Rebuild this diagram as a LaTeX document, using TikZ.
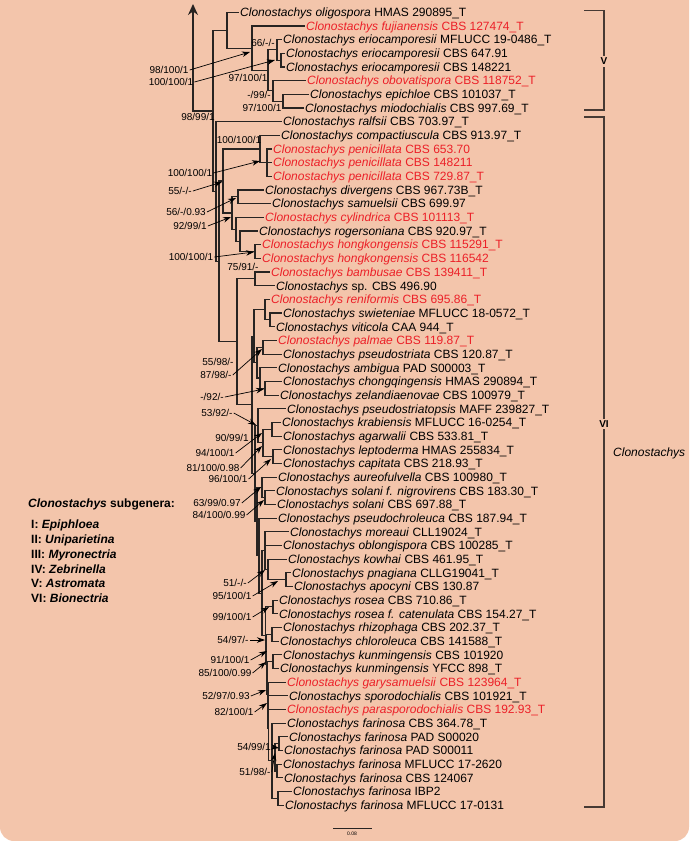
\documentclass[tikz,border=0pt]{standalone}
\usepackage{fontspec}
\setmainfont{Liberation Sans}
\usetikzlibrary{arrows.meta}
\definecolor{bgc}{RGB}{243,197,171}
\definecolor{redc}{RGB}{236,32,40}
\definecolor{linec}{RGB}{40,36,34}
\definecolor{brk}{RGB}{70,58,52}
\tikzset{
  br/.style={draw=linec, line width=1.1pt, line cap=rect},
  tip/.style={anchor=west, inner xsep=2pt, inner ysep=0pt, text height=8.6pt, text depth=0pt, font=\fontsize{12}{12}\selectfont},
  rtip/.style={tip, text=redc},
  sup/.style={font=\fontsize{10}{10}\selectfont, inner sep=0pt, text height=7.2pt, text depth=0pt},
  suparr/.style={draw=black, line width=0.7pt, -{Stealth[length=8pt,width=5.5pt]}},
  rootarr/.style={draw=linec, line width=1.3pt, -{Stealth[length=11pt,width=10pt]}},
  brkt/.style={draw=brk, line width=1.2pt},
  leg/.style={anchor=west, inner sep=0pt, text height=8.6pt, text depth=0pt, font=\fontsize{12}{12}\selectfont\bfseries},
  clab/.style={fill=bgc, inner xsep=0pt, inner ysep=2pt, font=\fontsize{10}{10}\selectfont\bfseries},
}
\newcommand\Cl[1]{\textit{Clonostachys #1}}
\newcommand\tip[3]{\node[tip] (t#1) at (#2-2,{12.3+13.67*(#1-1)}) {#3}; \coordinate (a#1) at (t#1.west);}
\newcommand\rtip[3]{\node[rtip] (t#1) at (#2-2,{12.3+13.67*(#1-1)}) {#3}; \coordinate (a#1) at (t#1.west);}
\newcommand\kid[2]{\draw[br] (#1 |- #2) -- (#2);}
\newcommand\Vsp[3]{\draw[br] (#1 |- #2) -- (#1 |- #3);}
\newcommand\bin[3]{\Vsp{#1}{#2}{#3}\kid{#1}{#2}\kid{#1}{#3}}
\newcommand\tri[4]{\Vsp{#1}{#2}{#4}\kid{#1}{#2}\kid{#1}{#3}\kid{#1}{#4}}
\newcommand\suplab[4]{\node[sup] (#1) at (#2,#3) {#4};}
\newcommand\suparrow[5]{\node[sup] (#1) at (#2,#3) {#4}; \coordinate (#1p) at (#5); \draw[suparr] ([xshift=1pt]#1.east) -- (#1p);}
\begin{document}
\begin{tikzpicture}[x=1pt,y=-1pt]
\useasboundingbox (0,0) rectangle (689,841);
\fill[white] (0,0) rectangle (689,841);
\fill[bgc, rounded corners=14pt] (0,-40) rectangle (689,841);

% ---------- tips ----------
\tip{1}{240}{\Cl{oligospora} HMAS 290895\_T}
\rtip{2}{306}{\Cl{fujianensis} CBS 127474\_T}
\tip{3}{283}{\Cl{eriocamporesii} MFLUCC 19-0486\_T}
\tip{4}{286}{\Cl{eriocamporesii} CBS 647.91}
\tip{5}{286}{\Cl{eriocamporesii} CBS 148221}
\rtip{6}{307}{\Cl{obovatispora} CBS 118752\_T}
\tip{7}{310}{\Cl{epichloe} CBS 101037\_T}
\tip{8}{305}{\Cl{miodochialis} CBS 997.69\_T}
\tip{9}{283}{\Cl{ralfsii} CBS 703.97\_T}
\tip{10}{281}{\Cl{compactiuscula} CBS 913.97\_T}
\rtip{11}{273}{\Cl{penicillata} CBS 653.70}
\rtip{12}{273}{\Cl{penicillata} CBS 148211}
\rtip{13}{273}{\Cl{penicillata} CBS 729.87\_T}
\tip{14}{265}{\Cl{divergens} CBS 967.73B\_T}
\tip{15}{272}{\Cl{samuelsii} CBS 699.97}
\rtip{16}{265}{\Cl{cylindrica} CBS 101113\_T}
\tip{17}{259}{\Cl{rogersoniana} CBS 920.97\_T}
\rtip{18}{262}{\Cl{hongkongensis} CBS 115291\_T}
\rtip{19}{262}{\Cl{hongkongensis} CBS 116542}
\rtip{20}{271}{\Cl{bambusae} CBS 139411\_T}
\tip{21}{276}{\textit{Clonostachys} sp. CBS 496.90}
\rtip{22}{271}{\Cl{reniformis} CBS 695.86\_T}
\tip{23}{283}{\Cl{swieteniae} MFLUCC 18-0572\_T}
\tip{24}{276}{\Cl{viticola} CAA 944\_T}
\rtip{25}{278}{\Cl{palmae} CBS 119.87\_T}
\tip{26}{283}{\Cl{pseudostriata} CBS 120.87\_T}
\tip{27}{278}{\Cl{ambigua} PAD S00003\_T}
\tip{28}{283}{\Cl{chongqingensis} HMAS 290894\_T}
\tip{29}{280}{\Cl{zelandiaenovae} CBS 100979\_T}
\tip{30}{287}{\Cl{pseudostriatopsis} MAFF 239827\_T}
\tip{31}{282}{\Cl{krabiensis} MFLUCC 16-0254\_T}
\tip{32}{283}{\Cl{agarwalii} CBS 533.81\_T}
\tip{33}{283}{\Cl{leptoderma} HMAS 255834\_T}
\tip{34}{283}{\Cl{capitata} CBS 218.93\_T}
\tip{35}{278}{\Cl{aureofulvella} CBS 100980\_T}
\tip{36}{276}{\Cl{solani f. nigrovirens} CBS 183.30\_T}
\tip{37}{277}{\Cl{solani} CBS 697.88\_T}
\tip{38}{278}{\Cl{pseudochroleuca} CBS 187.94\_T}
\tip{39}{290}{\Cl{moreaui} CLL19024\_T}
\tip{40}{283}{\Cl{oblongispora} CBS 100285\_T}
\tip{41}{288}{\Cl{kowhai} CBS 461.95\_T}
\tip{42}{292}{\Cl{pnagiana} CLLG19041\_T}
\tip{43}{294}{\Cl{apocyni} CBS 130.87}
\tip{44}{279}{\Cl{rosea} CBS 710.86\_T}
\tip{45}{279}{\Cl{rosea f. catenulata} CBS 154.27\_T}
\tip{46}{283}{\Cl{rhizophaga} CBS 202.37\_T}
\tip{47}{280}{\Cl{chloroleuca} CBS 141588\_T}
\tip{48}{283}{\Cl{kunmingensis} CBS 101920}
\tip{49}{280}{\Cl{kunmingensis} YFCC 898\_T}
\rtip{50}{287}{\Cl{garysamuelsii} CBS 123964\_T}
\tip{51}{289}{\Cl{sporodochialis} CBS 101921\_T}
\rtip{52}{287}{\Cl{parasporodochialis} CBS 192.93\_T}
\tip{53}{287}{\Cl{farinosa} CBS 364.78\_T}
\tip{54}{289}{\Cl{farinosa} PAD S00020}
\tip{55}{284}{\Cl{farinosa} PAD S00011}
\tip{56}{283}{\Cl{farinosa} MFLUCC 17-2620}
\tip{57}{284}{\Cl{farinosa} CBS 124067}
\tip{58}{293}{\Cl{farinosa} IBP2}
\tip{59}{285}{\Cl{farinosa} MFLUCC 17-0131}

% ---------- internal nodes ----------
\coordinate (nE2) at (281,60.2);
\coordinate (nE1) at (277,49.9);
\coordinate (nM) at (283,101.2);
\coordinate (nO) at (273,90.9);
\coordinate (nEO) at (268,70.4);
\coordinate (nF) at (252,48.2);
\coordinate (nN1) at (227,30.3);
\coordinate (nHK) at (255,251.5);
\coordinate (nRH) at (240,241.3);
\coordinate (nCRH) at (236,229.3);
\coordinate (nDS) at (238,196.8);
\coordinate (nDH) at (232,213.0);
\coordinate (nPEN) at (267,162.7);
\coordinate (nPC) at (260,149.0);
\coordinate (nP55) at (223,181.0);
\coordinate (nBS) at (255,278.9);
\coordinate (nSV) at (270,319.9);
\coordinate (nRSV) at (265,309.6);
\coordinate (nPP) at (263,347.2);
\coordinate (nCZ) at (265,388.2);
\coordinate (nAC) at (260,378.0);
\coordinate (nPPAC) at (257,362.6);
\coordinate (nU) at (254,336.1);
\coordinate (nKA) at (272,429.2);
\coordinate (nLC) at (273,456.6);
\coordinate (nKLC) at (263,442.9);
\coordinate (nPK) at (258,425.8);
\coordinate (nSS) at (265,497.5);
\coordinate (nASP) at (262,487.3);
\coordinate (nPA) at (286,579.6);
\coordinate (nKP) at (268,569.3);
\coordinate (nMO) at (265,550.5);
\coordinate (nRO) at (273,606.9);
\coordinate (nRC) at (272,634.2);
\coordinate (nKU) at (273,661.6);
\coordinate (nGSP) at (268,695.7);
\coordinate (nF3) at (279,743.6);
\coordinate (nF4) at (277,771.0);
\coordinate (nF2) at (275,757.3);
\coordinate (nFIB) at (278,798.2);
\coordinate (nFA) at (272,760.7);
\coordinate (nB1) at (268.5,728.2);
\coordinate (nB2) at (267.5,694.9);
\coordinate (nB3) at (266.5,664.6);
\coordinate (nB4) at (265.5,635.7);
\coordinate (nB5) at (262,593.1);
\coordinate (nB6) at (259,555.6);
\coordinate (nB7) at (257,521.5);
\coordinate (nL) at (255,473.6);
\coordinate (nT) at (252,404.9);
\coordinate (nS) at (237,341.9);
\coordinate (nQ) at (219,261.5);
\coordinate (nVI) at (216,191.6);
\coordinate (nX) at (213,111.0);
\coordinate (root) at (193,111.0);
\coordinate (rtop) at (193,4);

% ---------- branches ----------
\bin{nE2}{a4}{a5}
\bin{nE1}{a3}{nE2}
\bin{nM}{a7}{a8}
\bin{nO}{a6}{nM}
\bin{nEO}{nE1}{nO}
\bin{nF}{a2}{nEO}
\bin{nN1}{a1}{nF}
\bin{nHK}{a18}{a19}
\bin{nRH}{a17}{nHK}
\bin{nCRH}{a16}{nRH}
\bin{nDS}{a14}{a15}
\bin{nDH}{nDS}{nCRH}
\tri{nPEN}{a11}{a12}{a13}
\bin{nPC}{a10}{nPEN}
\bin{nP55}{nPC}{nDH}
\bin{nBS}{a20}{a21}
\bin{nSV}{a23}{a24}
\bin{nRSV}{a22}{nSV}
\bin{nPP}{a25}{a26}
\bin{nCZ}{a28}{a29}
\bin{nAC}{a27}{nCZ}
\bin{nPPAC}{nPP}{nAC}
\bin{nU}{nRSV}{nPPAC}
\bin{nKA}{a31}{a32}
\bin{nLC}{a33}{a34}
\bin{nKLC}{nKA}{nLC}
\bin{nPK}{a30}{nKLC}
\bin{nSS}{a36}{a37}
\bin{nASP}{a35}{nSS}
\bin{nPA}{a42}{a43}
\bin{nKP}{a41}{nPA}
\tri{nMO}{a39}{a40}{nKP}
\bin{nRO}{a44}{a45}
\bin{nRC}{a46}{a47}
\bin{nKU}{a48}{a49}
\tri{nGSP}{a50}{a51}{a52}
\bin{nF3}{a54}{a55}
\bin{nF4}{a56}{a57}
\bin{nF2}{nF3}{nF4}
\bin{nFIB}{a58}{a59}
\tri{nFA}{a53}{nF2}{nFIB}
\bin{nB1}{nGSP}{nFA}
\bin{nB2}{nKU}{nB1}
\bin{nB3}{nRC}{nB2}
\bin{nB4}{nRO}{nB3}
\bin{nB5}{nMO}{nB4}
\bin{nB6}{a38}{nB5}
\bin{nB7}{nASP}{nB6}
\bin{nL}{nPK}{nB7}
\bin{nT}{nU}{nL}
\bin{nS}{nBS}{nT}
\bin{nQ}{nP55}{nS}
\bin{nVI}{a9}{nQ}
\bin{nX}{nN1}{nVI}
\draw[br] (root) -- (nX);
\draw[rootarr] (root) -- (rtop);

% ---------- support values ----------
\suplab{s1}{263}{43}{66/-/-}
\suparrow{s2}{169}{70}{98/100/1}{250,52}
\suparrow{s3}{171}{82}{100/100/1}{275,60}
\suplab{s4}{248}{78}{97/100/1}
\suplab{s5}{259}{95}{-/99/-}
\suplab{s6}{262}{108}{97/100/1}
\suplab{s7}{198}{117}{98/99/1}
\suplab{s8}{239}{140}{100/100/1}
\suparrow{s9}{190}{173}{100/100/1}{260,161}
\suparrow{s10}{180}{191}{55/-/-}{222,182}
\suparrow{s11}{186}{212}{56/-/0.93}{236,198}
\suparrow{s12}{190}{226}{92/99/1}{231,217}
\suparrow{s13}{191}{257}{100/100/1}{254,252}
\suplab{s14}{243}{267}{75/91/-}
\suplab{s15}{218}{362}{55/98/-}
\suparrow{s16}{216}{375}{87/98/-}{262,349}
\suparrow{s17}{212}{397}{-/92/-}{264,389}
\suparrow{s18}{217}{413}{53/92/-}{256,425}
\suplab{s19}{232}{438}{90/99/1}
\suparrow{s20}{215}{453}{94/100/1}{262,433}
\suparrow{s21}{213}{468}{81/100/0.98}{262,446}
\suparrow{s22}{228}{479}{96/100/1}{271,459}
\suparrow{s23}{217}{503}{63/99/0.97}{261,487}
\suparrow{s24}{219}{515}{84/100/0.99}{264,500}
\suparrow{s25}{235}{583}{51/-/-}{265,570}
\suparrow{s26}{232}{596}{95/100/1}{278,581}
\suparrow{s27}{232}{617}{99/100/1}{269,607}
\suparrow{s28}{233}{640}{54/97/-}{265,640}
\suparrow{s29}{230}{660}{91/100/1}{267,651}
\suparrow{s30}{225}{673}{85/100/0.99}{266,662}
\suparrow{s31}{226}{696}{52/97/0.93}{266,690}
\suparrow{s32}{234}{712}{82/100/1}{267,703}
\suparrow{s33}{254}{747}{54/99/1}{279,748}
\suparrow{s34}{255}{772}{51/98/-}{275,753}

% ---------- brackets ----------
\draw[brkt] (584,10.5) -- (604,10.5) -- (604,110) -- (584,110);
\node[clab] (lV) at (604,61.5) {V};
\draw[brkt] (584,117) -- (604,117) -- (604,807) -- (584,807);
\node[clab] (lVI) at (604,424) {VI};
\node[tip, inner xsep=0pt] (lCl) at (613,452) {\textit{Clonostachys}};

% ---------- legend ----------
\node[leg] (lh) at (28,503) {\textit{Clonostachys} subgenera:};
\node[leg] (l1) at (31,524) {I: \textit{Epiphloea}};
\node[leg] (l2) at (31,539) {II: \textit{Uniparietina}};
\node[leg] (l3) at (31,554) {III: \textit{Myronectria}};
\node[leg] (l4) at (31,569) {IV: \textit{Zebrinella}};
\node[leg] (l5) at (31,583) {V: \textit{Astromata}};
\node[leg] (l6) at (31,598) {VI: \textit{Bionectria}};

% ---------- scale bar ----------
\coordinate (sb1) at (333,828);
\coordinate (sb2) at (372,828);
\draw[draw=linec, line width=0.6pt] (sb1) -- (sb2);
\node[font=\fontsize{5}{5}\selectfont, inner sep=0pt] (sbl) at (352,834) {0.08};
\end{tikzpicture}
\end{document}
